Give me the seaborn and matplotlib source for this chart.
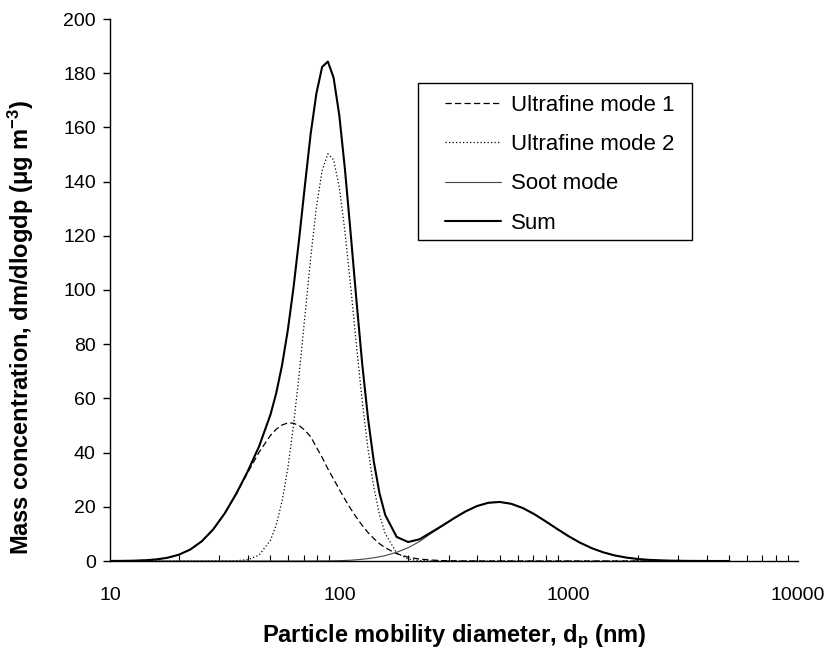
import matplotlib
matplotlib.use("Agg")
import matplotlib.pyplot as plt
from matplotlib.ticker import LogLocator, NullFormatter, FixedLocator
from matplotlib.patches import Rectangle
import seaborn as sns
import pandas as pd

# Particle mobility diameter (nm)
diameter = [10.0, 11.22, 12.59, 14.13, 15.85, 17.78, 19.95, 22.39, 25.12, 28.18,
            31.62, 35.48, 39.81, 44.67, 50.12,
            53.09, 56.23, 59.57, 63.10, 66.83, 70.79, 74.99, 79.43, 84.14, 89.13,
            94.41, 100.0, 105.9, 112.2, 118.9, 125.9, 133.4, 141.3, 149.6, 158.5,
            177.8, 199.5, 223.9, 251.2, 281.8, 316.2, 354.8, 398.1, 446.7, 501.2,
            562.3, 631.0, 707.9, 794.3, 891.3, 1000, 1122, 1259, 1413, 1585,
            1778, 1995, 2239, 2512, 2818, 3162, 3548, 3981, 4467, 5012]

ultrafine_1 = [0.02, 0.04, 0.11, 0.25, 0.57, 1.18, 2.31, 4.24, 7.26, 11.66,
               17.53, 24.67, 32.52, 40.13, 46.38,
               48.64, 50.18, 50.93, 50.85, 49.94, 48.24, 45.85, 42.0, 38.2, 34.0,
               30.2, 26.4, 22.7, 19.2, 16.0, 13.1, 10.5, 8.3, 6.4, 4.9,
               2.7, 1.4, 0.7, 0.35, 0.15, 0.06, 0.02, 0.01, 0, 0,
               0, 0, 0, 0, 0, 0, 0, 0, 0, 0,
               0, 0, 0, 0, 0, 0, 0, 0, 0, 0]

ultrafine_2 = [0, 0, 0, 0, 0, 0, 0, 0, 0, 0,
               0.01, 0.09, 0.48, 2.16, 7.70,
               13.38, 21.96, 34.06, 49.91, 69.11, 90.41, 111.78, 130.54, 144.09, 150.25,
               148.06, 137.86, 121.27, 100.82, 79.19, 58.77, 41.21, 27.30, 17.10, 10.11,
               2.99, 0.70, 0.13, 0.02, 0, 0, 0, 0, 0, 0,
               0, 0, 0, 0, 0, 0, 0, 0, 0, 0,
               0, 0, 0, 0, 0, 0, 0, 0, 0, 0]

soot = [0, 0, 0, 0, 0, 0, 0, 0, 0, 0,
        0, 0, 0, 0, 0,
        0, 0, 0, 0, 0, 0, 0, 0.01, 0.02, 0.04,
        0.07, 0.12, 0.2, 0.3, 0.45, 0.65, 0.9, 1.2, 1.55, 2.0,
        3.2, 4.9, 7.2, 10.18, 12.94, 15.72, 18.26, 20.26, 21.49, 21.78,
        21.10, 19.54, 17.29, 14.62, 11.82, 9.13, 6.74, 4.76, 3.21, 2.07,
        1.28, 0.75, 0.42, 0.23, 0.12, 0.06, 0.03, 0.01, 0.0, 0.0]

total = [0.02, 0.04, 0.11, 0.25, 0.57, 1.18, 2.31, 4.24, 7.26, 11.66,
         17.54, 24.76, 33.00, 42.29, 54.08,
         62.02, 72.14, 84.99, 100.76, 119.05, 138.65, 157.63, 172.55, 182.31, 184.29,
         178.33, 164.38, 144.17, 120.32, 95.64, 72.52, 52.61, 36.80, 25.05, 17.01,
         8.89, 7.00, 8.03, 10.55, 13.09, 15.78, 18.28, 20.27, 21.49, 21.78,
         21.10, 19.54, 17.29, 14.62, 11.82, 9.13, 6.74, 4.76, 3.21, 2.07,
         1.28, 0.75, 0.42, 0.23, 0.12, 0.06, 0.03, 0.01, 0.0, 0.0]

series_names = ["Ultrafine mode 1", "Ultrafine mode 2", "Soot mode", "Sum"]
x_ticks = [10, 100, 1000, 10000]
x_ticklabels = ["10", "100", "1000", "10000"]
y_ticks = [0, 20, 40, 60, 80, 100, 120, 140, 160, 180, 200]

df = pd.DataFrame({"d": diameter, series_names[0]: ultrafine_1,
                   series_names[1]: ultrafine_2, series_names[2]: soot,
                   series_names[3]: total})

sns.set_theme(style="white")
plt.rcParams["font.family"] = ["Liberation Sans", "DejaVu Sans"]
plt.rcParams["mathtext.fontset"] = "custom"
plt.rcParams["mathtext.rm"] = "Liberation Sans"
plt.rcParams["mathtext.bf"] = "Liberation Sans:bold"
plt.rcParams["mathtext.it"] = "Liberation Sans:italic"
plt.rcParams["mathtext.default"] = "bf"

W, H = 833, 651
fig = plt.figure(figsize=(W / 100, H / 100), dpi=100)
ax = fig.add_axes([110 / W, 1 - 561 / H, (798 - 110) / W, (561 - 19) / H])

styles = [
    dict(color="black", lw=0.9, linestyle=(0, (5, 2.6))),
    dict(color="black", lw=0.9, linestyle=(0, (1, 1.8))),
    dict(color="#444444", lw=0.8, linestyle="-"),
    dict(color="black", lw=1.5, linestyle="-"),
]
for name, st in zip(series_names, styles):
    sns.lineplot(data=df, x="d", y=name, ax=ax, label=name, **st)

ax.set_xscale("log")
ax.set_xlim(10, 10000)
ax.set_ylim(0, 200)
ax.xaxis.set_major_locator(FixedLocator(x_ticks))
ax.set_xticklabels(x_ticklabels)
ax.xaxis.set_minor_locator(LogLocator(base=10, subs=range(2, 10)))
ax.xaxis.set_minor_formatter(NullFormatter())
ax.set_yticks(y_ticks)

for s in ["top", "right"]:
    ax.spines[s].set_visible(False)
for s in ["left", "bottom"]:
    ax.spines[s].set_color("black")
    ax.spines[s].set_linewidth(1.0)

ax.tick_params(axis="x", which="major", direction="in", length=6, width=1,
               color="black", labelsize=14, labelcolor="black", pad=19)
ax.tick_params(axis="x", which="minor", direction="in", length=4, width=0.8,
               color="black", bottom=True)
ax.tick_params(axis="y", which="major", direction="out", length=4.7, width=1,
               color="black", labelsize=14, labelcolor="black", left=True, pad=5.5)

ax.set_xlabel(r"Particle mobility diameter, d$_p$ (nm)", fontsize=17,
              fontweight="bold", color="black", labelpad=13)
ax.set_ylabel(r"Mass concentration, dm/dlogdp ($\mu$g m$^{-3}$)", fontsize=17,
              fontweight="bold", color="black")
ax.yaxis.set_label_coords(36 / W, 1 - 327 / H, transform=fig.transFigure)

leg = ax.legend(loc="upper left", bbox_to_anchor=(445 / W, 1 - 95 / H),
                bbox_transform=fig.transFigure, fontsize=16, frameon=False,
                handlelength=2.5, handletextpad=0.45, labelspacing=0.82,
                borderpad=0, borderaxespad=0, labelcolor="black")
fig.patches.append(Rectangle((418 / W, 1 - 240 / H), (692 - 418) / W, (240 - 83) / H,
                             transform=fig.transFigure, facecolor="none",
                             edgecolor="black", lw=1.0, zorder=5))

ax.grid(False)
fig.savefig("out.png", dpi=100, facecolor="white")
